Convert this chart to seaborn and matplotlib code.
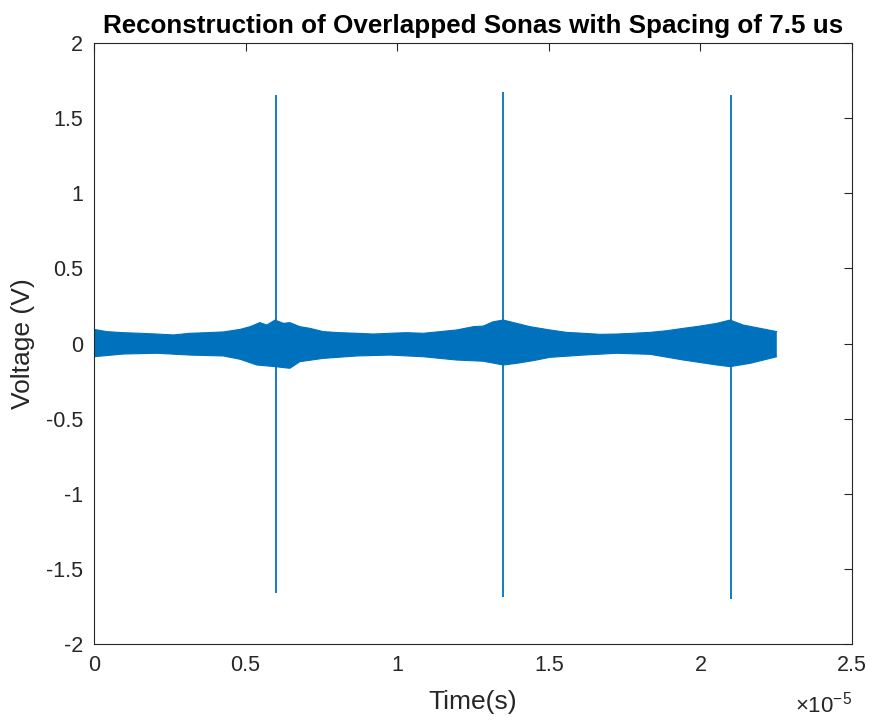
import numpy as np
import pandas as pd
import matplotlib
matplotlib.use("Agg")
import matplotlib.pyplot as plt
import seaborn as sns

# upper envelope of the noisy signal (time in units of 1e-5 s, volts)
up_time = [0.0, 0.042, 0.097, 0.152, 0.207, 0.262, 0.317, 0.372, 0.427, 0.482,
           0.515, 0.547, 0.570, 0.597, 0.625, 0.646, 0.679, 0.712, 0.756, 0.811,
           0.866, 0.921, 0.976, 1.031, 1.086, 1.141, 1.196, 1.251, 1.284, 1.317,
           1.35, 1.394, 1.438, 1.504, 1.559, 1.614, 1.669, 1.724, 1.779, 1.834,
           1.889, 1.944, 1.999, 2.054, 2.098, 2.141, 2.197, 2.252]
up_val = [0.094, 0.079, 0.072, 0.068, 0.063, 0.057, 0.068, 0.072, 0.077, 0.094,
          0.112, 0.139, 0.123, 0.156, 0.134, 0.139, 0.112, 0.101, 0.079, 0.072,
          0.068, 0.063, 0.068, 0.072, 0.068, 0.079, 0.090, 0.112, 0.116, 0.145,
          0.156, 0.134, 0.112, 0.090, 0.074, 0.068, 0.061, 0.063, 0.068, 0.074,
          0.085, 0.101, 0.116, 0.134, 0.156, 0.123, 0.101, 0.079]

# lower envelope
lo_time = [0.0, 0.097, 0.207, 0.317, 0.427, 0.482, 0.537, 0.597, 0.646, 0.679,
           0.756, 0.866, 0.976, 1.086, 1.196, 1.284, 1.35, 1.394, 1.449, 1.504,
           1.614, 1.724, 1.834, 1.944, 2.054, 2.098, 2.164, 2.252]
lo_val = [-0.088, -0.070, -0.065, -0.077, -0.083, -0.105, -0.143, -0.154, -0.165, -0.121,
          -0.099, -0.083, -0.077, -0.088, -0.110, -0.118, -0.143, -0.132, -0.114, -0.092,
          -0.077, -0.065, -0.072, -0.110, -0.143, -0.154, -0.132, -0.088]

# spikes
spike_time = [0.6, 1.35, 2.1]
spike_max = [1.654, 1.674, 1.654]
spike_min = [-1.66, -1.687, -1.70]

title = "Reconstruction of Overlapped Sonas with Spacing of 7.5 us"
xlabel = "Time(s)"
ylabel = "Voltage (V)"
xticks = [0, 0.5, 1, 1.5, 2, 2.5]
yticks = [-2, -1.5, -1, -0.5, 0, 0.5, 1, 1.5, 2]

sns.set_style("white")
plt.rcParams['font.family'] = ['Liberation Sans', 'DejaVu Sans']
plt.rcParams['mathtext.fontset'] = 'custom'
plt.rcParams['mathtext.rm'] = 'Liberation Sans'

color = "#0072BD"
tc = "#262626"
fig = plt.figure(figsize=(8.72, 7.21), dpi=100)
ax = fig.add_axes([94/872, 1-644/721, (852-94)/872, (644-43)/721])

df_up = pd.DataFrame({"t": np.array(up_time) * 1e-5, "v": up_val})
df_lo = pd.DataFrame({"t": np.array(lo_time) * 1e-5, "v": lo_val})
sns.lineplot(data=df_up, x="t", y="v", ax=ax, color=color, linewidth=0.8)
sns.lineplot(data=df_lo, x="t", y="v", ax=ax, color=color, linewidth=0.8)
poly_x = np.concatenate([df_up["t"].values, df_lo["t"].values[::-1]])
poly_y = np.concatenate([df_up["v"].values, df_lo["v"].values[::-1]])
ax.fill(poly_x, poly_y, color=color, linewidth=0)
ax.vlines(np.array(spike_time) * 1e-5, spike_min, spike_max, color=color, linewidth=1.3)

ax.set_xlim(0, 2.5e-5)
ax.set_ylim(-2, 2)
ax.set_xticks(np.array(xticks) * 1e-5)
ax.set_xticklabels([f"{v:g}" for v in xticks])
ax.set_yticks(yticks)
ax.set_yticklabels([f"{v:g}" for v in yticks])

ax.tick_params(direction="in", length=6, width=0.8, colors=tc,
               labelsize=15.5, top=True, right=True, pad=8)
for s in ax.spines.values():
    s.set_color(tc)
    s.set_linewidth(0.8)

ax.set_xlabel(xlabel, fontsize=19, color=tc, labelpad=10)
ax.set_ylabel(ylabel, fontsize=19, color=tc, labelpad=8)
ax.set_title(title, fontsize=18.7, fontweight="bold", color="black", pad=7)

fig.text(852/872, 1-718/721, r"$\times 10^{-5}$", ha="right", va="bottom",
         fontsize=16, color=tc)

fig.savefig("out.png", dpi=100)
